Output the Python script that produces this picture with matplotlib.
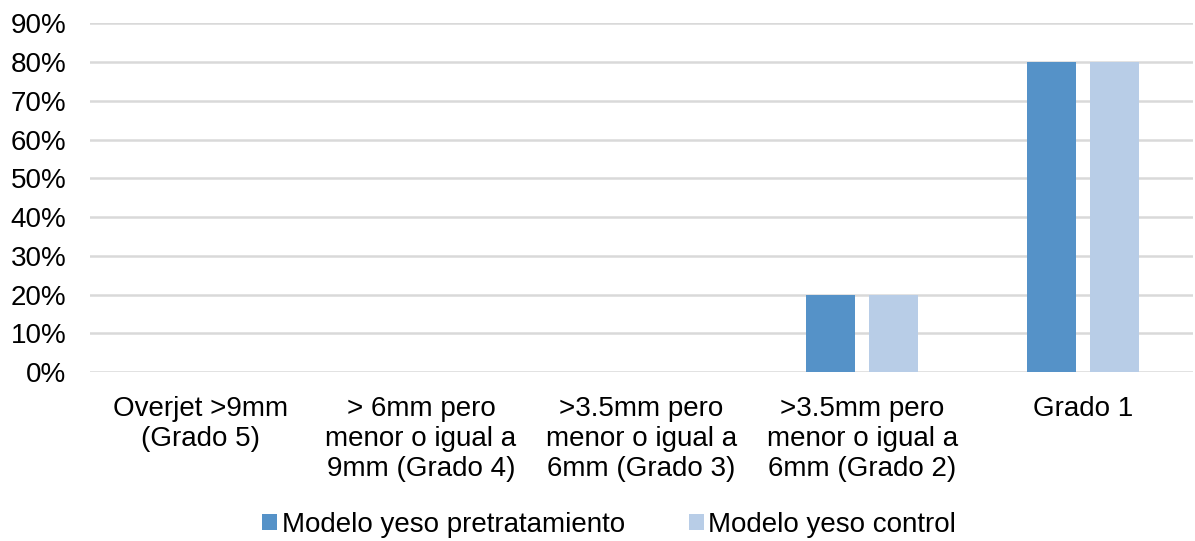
import matplotlib
matplotlib.use("Agg")
import matplotlib.pyplot as plt
from matplotlib.ticker import PercentFormatter
import numpy as np

categories = [
    "Overjet >9mm\n(Grado 5)",
    "> 6mm pero\nmenor o igual a\n9mm (Grado 4)",
    ">3.5mm pero\nmenor o igual a\n6mm (Grado 3)",
    ">3.5mm pero\nmenor o igual a\n6mm (Grado 2)",
    "Grado 1",
]
pretratamiento = [0.0, 0.0, 0.0, 0.20, 0.80]
control = [0.0, 0.0, 0.0, 0.20, 0.80]
series_names = ["Modelo yeso pretratamiento", "Modelo yeso control"]
y_ticks = [0.0, 0.1, 0.2, 0.3, 0.4, 0.5, 0.6, 0.7, 0.8, 0.9]

plt.rcParams["font.family"] = ["Liberation Sans", "DejaVu Sans"]
plt.rcParams["font.size"] = 20

dark = "#5592C8"
light = "#B8CDE7"
grid = "#D9D9D9"

fig = plt.figure(figsize=(11.95, 5.41), dpi=100)
ax = fig.add_axes([0.0753, 0.3124, 0.9230, 0.6442])

x = np.arange(len(categories))
w = 0.222
off = 0.1425
ax.bar(x - off, pretratamiento, width=w, color=dark, linewidth=0,
       label=series_names[0], zorder=3)
ax.bar(x + off, control, width=w, color=light, linewidth=0,
       label=series_names[1], zorder=3)

ax.set_xlim(-0.5, len(categories) - 0.5)
ax.set_ylim(0, 0.9)
ax.set_yticks(y_ticks)
ax.yaxis.set_major_formatter(PercentFormatter(1.0, decimals=0))
ax.set_xticks(x)
ax.set_xticklabels(categories, linespacing=1.22)
ax.tick_params(axis="y", length=0, pad=17, labelsize=20, colors="black")
ax.tick_params(axis="x", length=0, pad=17, labelsize=20, colors="black")
ax.grid(axis="y", color=grid, linewidth=1.8, zorder=0)
ax.set_axisbelow(True)
for s in ax.spines.values():
    s.set_visible(False)

fig.legend(loc="center", bbox_to_anchor=(0.5096, 0.030), ncol=2,
           frameon=False, fontsize=20, handlelength=0.55, handleheight=0.55,
           handletextpad=0.15, columnspacing=2.3, borderaxespad=0,
           borderpad=0)

fig.savefig("out.png", dpi=100)
